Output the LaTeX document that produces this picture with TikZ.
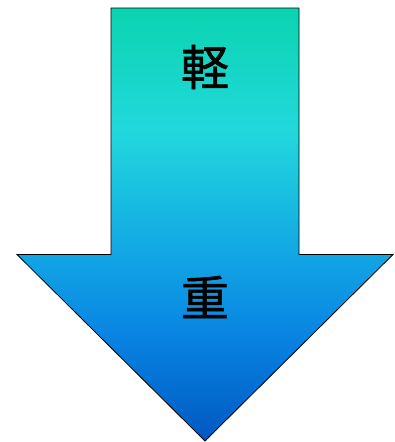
\documentclass[tikz,border=0pt]{standalone}
\usepackage{fontspec}
\newfontfamily\cjk[FakeBold=1.2]{Noto Sans CJK JP}
\definecolor{cA}{HTML}{0AD4B0}
\definecolor{cB}{HTML}{22D8DC}
\definecolor{cC}{HTML}{12A8E4}
\definecolor{cD}{HTML}{0882E2}
\definecolor{cE}{HTML}{0058C0}
\pgfdeclareverticalshading{arrowshade}{100bp}{color(0bp)=(cE); color(25bp)=(cE); color(36.7bp)=(cD); color(47.1bp)=(cC); color(60.9bp)=(cB); color(75bp)=(cA); color(100bp)=(cA)}
\tikzset{lbl/.style={font=\cjk\fontsize{48}{48}\selectfont, inner sep=0pt}}
\begin{document}
\begin{tikzpicture}[x=1pt,y=-1pt]
\useasboundingbox (0,0) rectangle (395,442);
\path[shading=arrowshade, draw=black, line width=0.8pt, line join=miter]
  (111,8) -- (299,8) -- (299,254.5) -- (393,254.5) -- (205,441) -- (17,254.5) -- (111,254.5) -- cycle;
\node[lbl] (light) at (205,67) {軽};
\node[lbl] (heavy) at (205,297) {重};
\end{tikzpicture}
\end{document}
